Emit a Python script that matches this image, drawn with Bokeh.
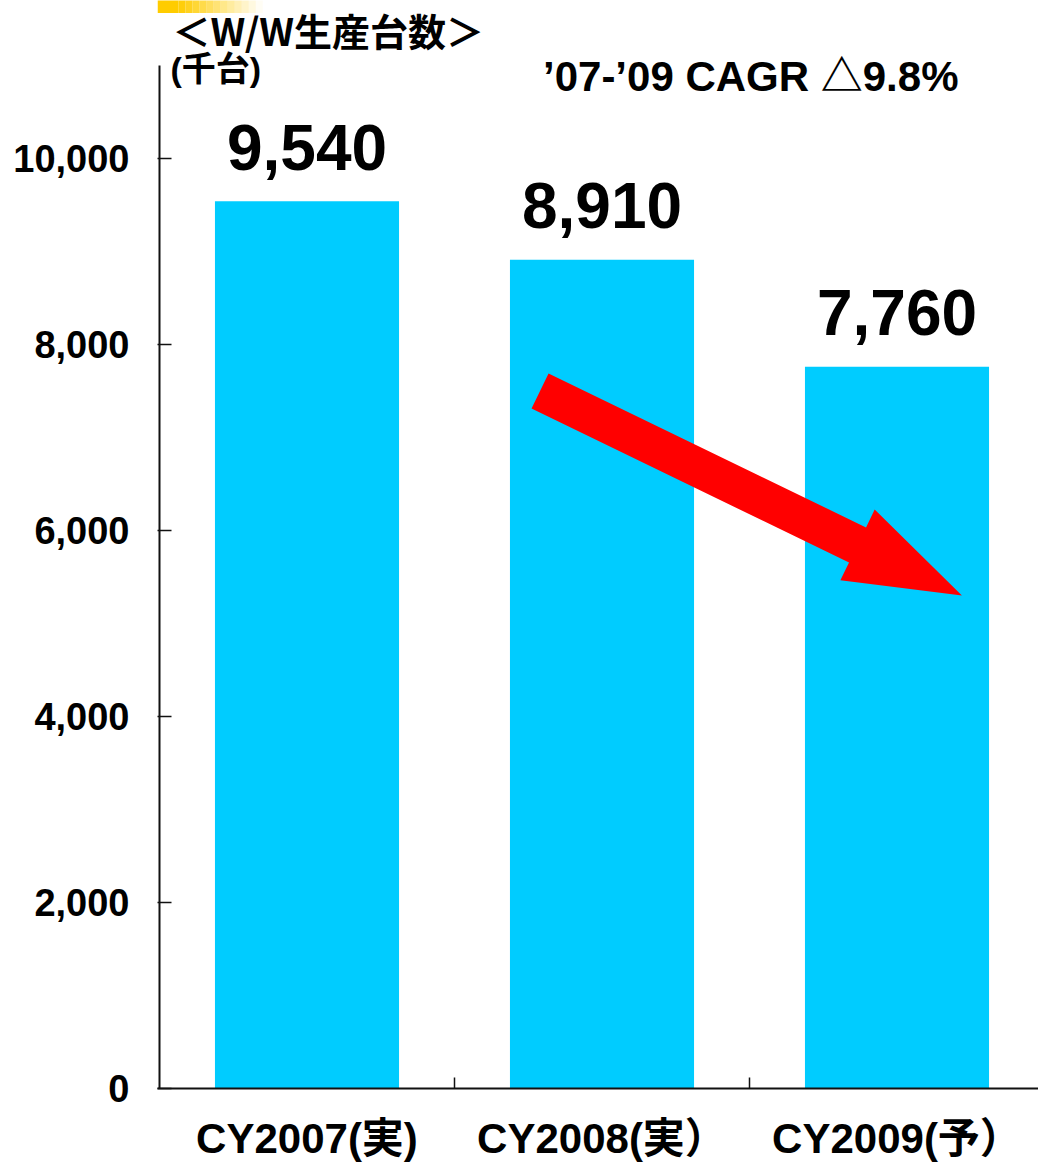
import numpy as np
from bokeh.plotting import figure
from bokeh.models import (Range1d, FixedTicker, NumeralTickFormatter, Label,
                          BoxAnnotation, ColumnDataSource)
from bokeh.core.properties import value
from bokeh.embed import file_html
from bokeh.resources import INLINE

# ---- data ----
categories = ["CY2007(実)", "CY2008(実）", "CY2009(予）"]
production = [9540, 8910, 7760]
value_labels = ["9,540", "8,910", "7,760"]
y_ticks = [0, 2000, 4000, 6000, 8000, 10000]

title_text = "＜W/W生産台数＞"
unit_text = "(千台)"
cagr_text = "’07-’09 CAGR △9.8%"

# ---- geometry ----
W, H = 1038, 1165
B_LEFT, B_RIGHT, B_TOP, B_BOTTOM = 157, 0, 0, 77
SX = 295.0                    # px per category
Y_AXIS_MAX = 11000            # where the drawn value axis ends
SY = 1023.0 / Y_AXIS_MAX      # px per unit
frame_w = W - B_LEFT - B_RIGHT
frame_h = H - B_TOP - B_BOTTOM
X_START = -2.0 / SX
X_END = X_START + frame_w / SX
Y_TOP = frame_h / SY

FONT = "Liberation Sans, Noto Sans CJK JP"
CJK = "Noto Sans CJK JP"
BAR = "#00CCFF"
AXIS = "#111111"

p = figure(width=W, height=H, output_backend="svg", toolbar_location=None,
           x_range=Range1d(X_START, X_END), y_range=Range1d(0, Y_TOP),
           min_border_left=B_LEFT, min_border_right=B_RIGHT,
           min_border_top=B_TOP, min_border_bottom=B_BOTTOM)
p.outline_line_color = None
p.xgrid.visible = False
p.ygrid.visible = False
p.background_fill_color = "white"
p.border_fill_color = "white"

xc = np.arange(len(categories)) + 0.5
src = ColumnDataSource(dict(x=xc, top=production, lab=value_labels))
p.vbar(x="x", top="top", width=0.624, bottom=0, source=src,
       fill_color=BAR, line_color=None)

p.text(x="x", y="top", text="lab", source=src, y_offset=-54,
       text_align="center", text_baseline="middle",
       text_font=value("Liberation Sans"), text_font_style="bold",
       text_font_size="64px", text_color="black")

# value-axis line (ends at Y_AXIS_MAX like the original)
p.segment(x0=[0], y0=[0], x1=[0], y1=[Y_AXIS_MAX], line_color=AXIS, line_width=2)

# ---- axes ----
ya = p.yaxis[0]
ya.ticker = FixedTicker(ticks=y_ticks)
ya.formatter = NumeralTickFormatter(format="0,0")
ya.axis_line_color = None
ya.major_tick_in = 14
ya.major_tick_out = 0
ya.major_tick_line_color = AXIS
ya.major_tick_line_width = 1.5
ya.minor_tick_line_color = None
ya.major_label_text_font = FONT
ya.major_label_text_font_style = "bold"
ya.major_label_text_font_size = "38px"
ya.major_label_text_color = "black"
ya.major_label_standoff = 28

xa = p.xaxis[0]
xa.ticker = FixedTicker(ticks=list(xc), minor_ticks=list(range(1, len(categories) + 1)))
xa.major_label_overrides = {float(v): c for v, c in zip(xc, categories)}
xa.axis_line_color = AXIS
xa.axis_line_width = 2
xa.major_tick_line_color = None
xa.minor_tick_line_color = AXIS
xa.minor_tick_line_width = 1.5
xa.minor_tick_in = 11
xa.minor_tick_out = 0
xa.major_label_text_font = FONT
xa.major_label_text_font_style = "bold"
xa.major_label_text_font_size = "42px"
xa.major_label_text_color = "black"
xa.major_label_standoff = 20

# ---- texts ----
p.add_layout(Label(x=0.044, y=11385, text=title_text, text_font=CJK,
                   text_font_style="bold", text_font_size="38px",
                   text_baseline="middle", text_color="black"))
p.add_layout(Label(x=0.037, y=10962, text=unit_text, text_font=FONT,
                   text_font_style="bold", text_font_size="34px",
                   text_baseline="middle", text_color="black"))
p.add_layout(Label(x=1.300, y=10885, text=cagr_text, text_font=FONT,
                   text_font_style="bold", text_font_size="42px",
                   text_baseline="middle", text_color="black"))

# ---- decorative yellow strip (top-left) ----
strip_bottom = 11565
p.add_layout(BoxAnnotation(left=X_START, right=0.064, bottom=strip_bottom, top=Y_TOP + 100,
                           fill_color="#FFCC00", fill_alpha=1.0, line_color=None))
n_steps = 12
g0, g1 = 0.064, 0.35
for i in range(n_steps):
    a = g0 + (g1 - g0) * i / n_steps
    b = g0 + (g1 - g0) * (i + 1) / n_steps
    p.add_layout(BoxAnnotation(left=a, right=b, bottom=strip_bottom, top=Y_TOP + 100,
                               fill_color="#FFCC00",
                               fill_alpha=1.0 - (i + 0.5) / n_steps,
                               line_color=None))

# ---- red trend arrow ----
arrow_tail = (1.29, 7500)
arrow_tip = (2.72, 5300)
shaft_half, head_half, head_len = 19.5, 39.3, 116.0
P0 = np.array([arrow_tail[0] * SX, arrow_tail[1] * SY])
P1 = np.array([arrow_tip[0] * SX, arrow_tip[1] * SY])
u = (P1 - P0) / np.linalg.norm(P1 - P0)
n = np.array([-u[1], u[0]])
Bp = P1 - u * head_len
pts = [P0 + n * shaft_half, Bp + n * shaft_half, Bp + n * head_half, P1,
       Bp - n * head_half, Bp - n * shaft_half, P0 - n * shaft_half]
ax = [pt[0] / SX for pt in pts]
ay = [pt[1] / SY for pt in pts]
p.patch(ax, ay, fill_color="#FF0000", line_color=None)

open("out.html", "w").write(file_html(p, INLINE))
